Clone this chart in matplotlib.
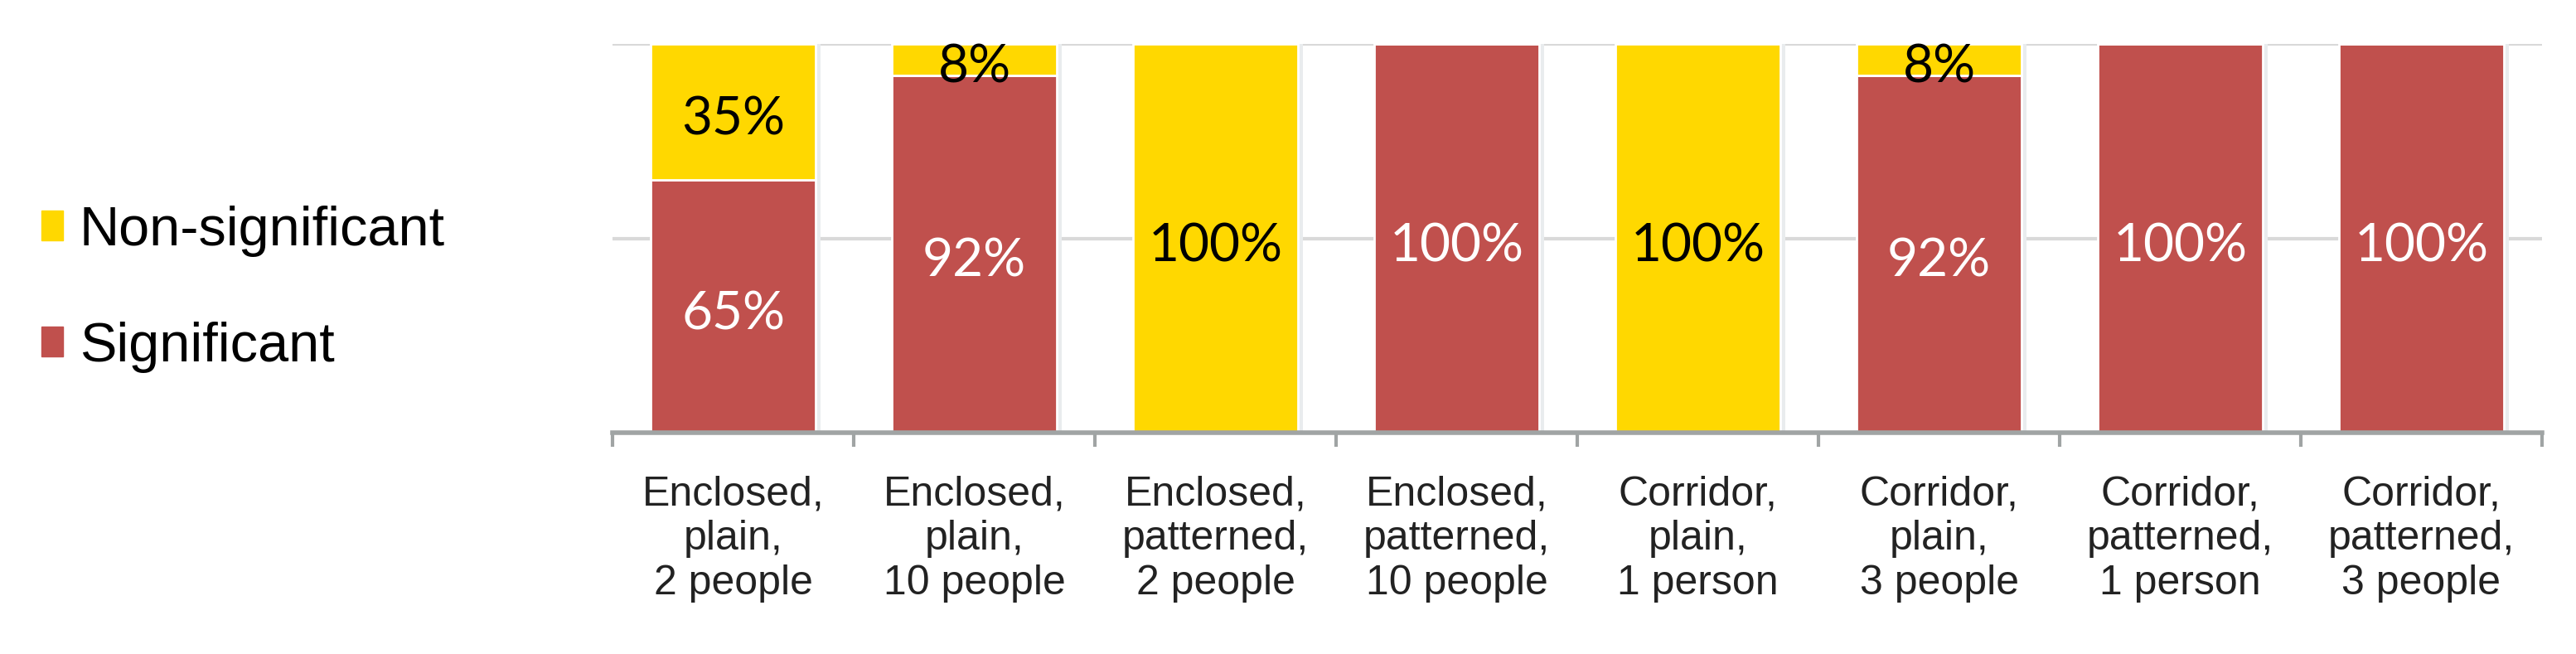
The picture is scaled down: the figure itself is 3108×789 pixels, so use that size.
import numpy as np
import matplotlib.pyplot as plt
from matplotlib.patches import Patch

categories = ['Enclosed,\nplain,\n2 people', 'Enclosed,\nplain,\n10 people',
              'Enclosed,\npatterned,\n2 people', 'Enclosed,\npatterned,\n10 people',
              'Corridor,\nplain,\n1 person', 'Corridor,\nplain,\n3 people',
              'Corridor,\npatterned,\n1 person', 'Corridor,\npatterned,\n3 people']
significant = [65, 92, 0, 100, 0, 92, 100, 100]
non_significant = [35, 8, 100, 0, 100, 8, 0, 0]

red = '#C0504D'
yellow = '#FFD800'

fig = plt.figure(figsize=(31.08, 7.89), dpi=100)
ax = fig.add_axes([0.2378, 0.3384, 0.749, 0.5944])

x = np.arange(len(categories))
sig = np.array(significant) / 100
non = np.array(non_significant) / 100
w = 0.684

# faint shadow behind each column
ax.bar(x + 0.012, sig + non, w + 0.02, color='#e9ecee', zorder=1)
b1 = ax.bar(x, sig, w, color=red, edgecolor='white', linewidth=2, zorder=2)
b2 = ax.bar(x, non, w, bottom=sig, color=yellow, edgecolor='white', linewidth=2, zorder=2)

for i in range(len(x)):
    if significant[i] > 0:
        ax.annotate(f'{significant[i]}%', (x[i], sig[i] / 2), xytext=(0, -7),
                    textcoords='offset points', ha='center', va='center',
                    color='white', fontsize=46, family='Lato', zorder=3)
    if non_significant[i] > 0:
        ax.annotate(f'{non_significant[i]}%', (x[i], sig[i] + non[i] / 2), xytext=(0, -7),
                    textcoords='offset points', ha='center', va='center',
                    color='black', fontsize=46, family='Lato', zorder=3)

ax.set_xlim(-0.5, len(x) - 0.5)
ax.set_ylim(0, 1)
ax.set_yticks([0.5, 1.0])
ax.yaxis.grid(True, color='#d9d9d9', linewidth=3)
ax.set_axisbelow(True)
ax.tick_params(axis='y', left=False, labelleft=False)

ax.set_xticks(x)
ax.set_xticklabels(categories, fontsize=36, family='Liberation Sans', linespacing=1.22)
ax.tick_params(axis='x', which='major', length=0, pad=37, colors='#222222')
ax.set_xticks(np.arange(-0.5, len(x)), minor=True)
ax.tick_params(axis='x', which='minor', length=12, width=3, color='#a0a4a4')

for s in ['top', 'right', 'left']:
    ax.spines[s].set_visible(False)
ax.spines['bottom'].set_color('#a0a4a4')
ax.spines['bottom'].set_linewidth(4)
ax.spines['bottom'].set_zorder(4)

handles = [Patch(color=yellow, label='Non-significant'), Patch(color=red, label='Significant')]
fig.legend(handles=handles, loc='center left', bbox_to_anchor=(0.016, 0.558),
           frameon=False, prop={'family': 'Liberation Sans', 'size': 48},
           handlelength=0.39, handleheight=0.46, handletextpad=0.3,
           labelspacing=1.17, borderpad=0, borderaxespad=0)

fig.savefig('out.png', dpi=100, facecolor='white')
